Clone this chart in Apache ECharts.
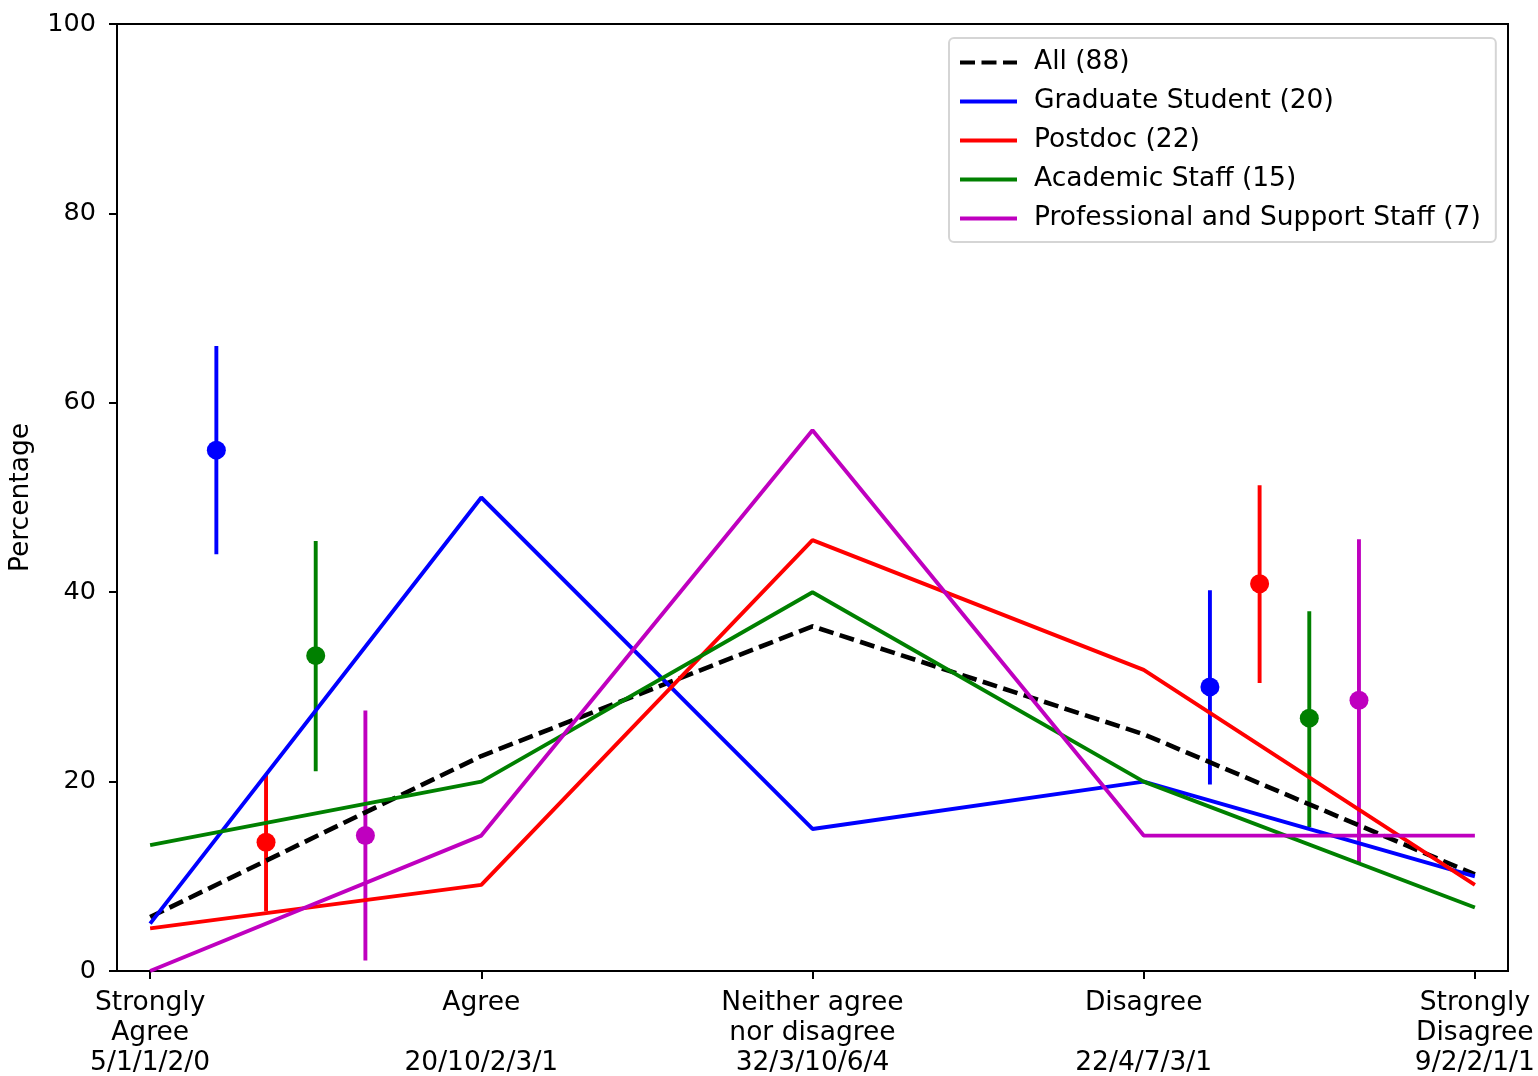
<!DOCTYPE html>
<html>
<head>
<meta charset="utf-8">
<script src="https://cdn.jsdelivr.net/npm/echarts@6/dist/echarts.min.js"></script>
<style>
html,body{margin:0;padding:0;background:#fff;}
#chart{width:1538px;height:1076px;}
</style>
</head>
<body>
<div id="chart"></div>
<script>
// Category positions and tick labels
const positions = [0, 1, 2, 3, 4];
const tickLabels = [
  'Strongly\nAgree\n5/1/1/2/0',
  'Agree\n\n20/10/2/3/1',
  'Neither agree\nnor disagree\n32/3/10/6/4',
  'Disagree\n\n22/4/7/3/1',
  'Strongly\nDisagree\n9/2/2/1/1'
];
const yTicks = [0, 20, 40, 60, 80, 100];

// Line series (percentages)
const seriesNames = ['All (88)', 'Graduate Student (20)', 'Postdoc (22)', 'Academic Staff (15)', 'Professional and Support Staff (7)'];
const allVals = [5.7, 22.7, 36.4, 25.0, 10.2];
const gradVals = [5.0, 50.0, 15.0, 20.0, 10.0];
const postdocVals = [4.5, 9.1, 45.5, 31.8, 9.1];
const academicVals = [13.3, 20.0, 40.0, 20.0, 6.7];
const profVals = [0.0, 14.3, 57.1, 14.3, 14.3];

// Error bar groups (Grad, Postdoc, Academic, Prof)
const errOffsets = [0.2, 0.35, 0.5, 0.65];
const agreeBase = 0;
const agreeVals = [55.0, 13.6, 33.3, 14.3];
const agreeLo = [44.0, 6.3, 21.1, 1.1];
const agreeHi = [66.0, 20.7, 45.4, 27.5];
const disagreeBase = 3;
const disagreeVals = [30.0, 40.9, 26.7, 28.6];
const disagreeLo = [19.7, 30.4, 15.2, 11.5];
const disagreeHi = [40.2, 51.3, 38.0, 45.6];

const colors = ['#000000', '#0000ff', '#ff0000', '#008000', '#bf00bf'];
const FONT = 'DejaVu Sans';
const FS = 26.5;
const LW = 3.9;

const lineData = [allVals, gradVals, postdocVals, academicVals, profVals];

const chart = echarts.init(document.getElementById('chart'), null, {renderer: 'canvas'});

const series = [];
// error bars first (lower)
for (let i = 0; i < 4; i++) {
  const col = colors[i + 1];
  series.push({
    name: 'err' + i,
    type: 'custom',
    z: 1,
    encode: {x: 0, y: [1, 2, 3]},
    data: [
      [agreeBase + errOffsets[i], agreeVals[i], agreeLo[i], agreeHi[i]],
      [disagreeBase + errOffsets[i], disagreeVals[i], disagreeLo[i], disagreeHi[i]]
    ],
    renderItem: function (params, api) {
      const x = api.value(0);
      const p = api.coord([x, api.value(1)]);
      const a = api.coord([x, api.value(2)]);
      const b = api.coord([x, api.value(3)]);
      return {
        type: 'group',
        children: [
          {type: 'line', shape: {x1: a[0], y1: a[1], x2: b[0], y2: b[1]}, style: {stroke: col, lineWidth: LW}},
          {type: 'circle', shape: {cx: p[0], cy: p[1], r: 9.5}, style: {fill: col}}
        ]
      };
    },
    silent: true
  });
}
for (let i = 0; i < 5; i++) {
  series.push({
    name: seriesNames[i],
    type: 'line',
    z: 2 + i,
    symbol: 'none',
    showSymbol: false,
    animation: false,
    data: positions.map((p, k) => [p, lineData[i][k]]),
    lineStyle: {color: colors[i], width: i === 0 ? 4.6 : LW, type: i === 0 ? [15, 6.5] : 'solid', cap: 'butt'},
    itemStyle: {color: colors[i]}
  });
}

chart.setOption({
  animation: false,
  backgroundColor: '#fff',
  textStyle: {fontFamily: FONT},
  grid: {left: 117, right: 30, top: 24, bottom: 105, containLabel: false, outerBoundsMode: 'none', show: true, borderColor: '#000', borderWidth: 2, backgroundColor: 'transparent'},
  legend: {
    data: seriesNames,
    orient: 'vertical',
    left: 949,
    top: 38,
    itemWidth: 57,
    itemHeight: 25,
    itemGap: 12,
    padding: [11, 15, 10, 9],
    backgroundColor: '#fff',
    borderColor: '#d5d5d5',
    borderWidth: 2,
    borderRadius: 5,
    itemStyle: {opacity: 0},
    lineStyle: {width: 4},
    textStyle: {fontFamily: FONT, fontSize: FS, color: '#000', padding: [0, 0, 0, 12]}
  },
  xAxis: {
    type: 'value',
    min: -0.1,
    max: 4.1,
    splitLine: {show: false},
    axisLine: {show: true, onZero: false, lineStyle: {color: '#000', width: 2}},
    axisTick: {show: true, customValues: positions, length: 8, lineStyle: {color: '#000', width: 2}},
    axisLabel: {
      customValues: positions,
      fontFamily: FONT, fontSize: FS, lineHeight: 30, color: '#000', margin: 17,
      formatter: function (v) { const idx = positions.indexOf(Math.round(v)); return idx >= 0 ? tickLabels[idx] : ''; }
    }
  },
  yAxis: {
    type: 'value',
    min: yTicks[0],
    max: yTicks[yTicks.length - 1],
    interval: 20,
    name: 'Percentage',
    nameLocation: 'middle',
    nameGap: 82,
    nameRotate: 90,
    nameTextStyle: {fontFamily: FONT, fontSize: FS, color: '#000'},
    splitLine: {show: false},
    axisLine: {show: true, onZero: false, lineStyle: {color: '#000', width: 2}},
    axisTick: {show: true, length: 8, lineStyle: {color: '#000', width: 2}},
    axisLabel: {fontFamily: FONT, fontSize: 25.5, color: '#000', margin: 21}
  },
  series: series
});
</script>
</body>
</html>
